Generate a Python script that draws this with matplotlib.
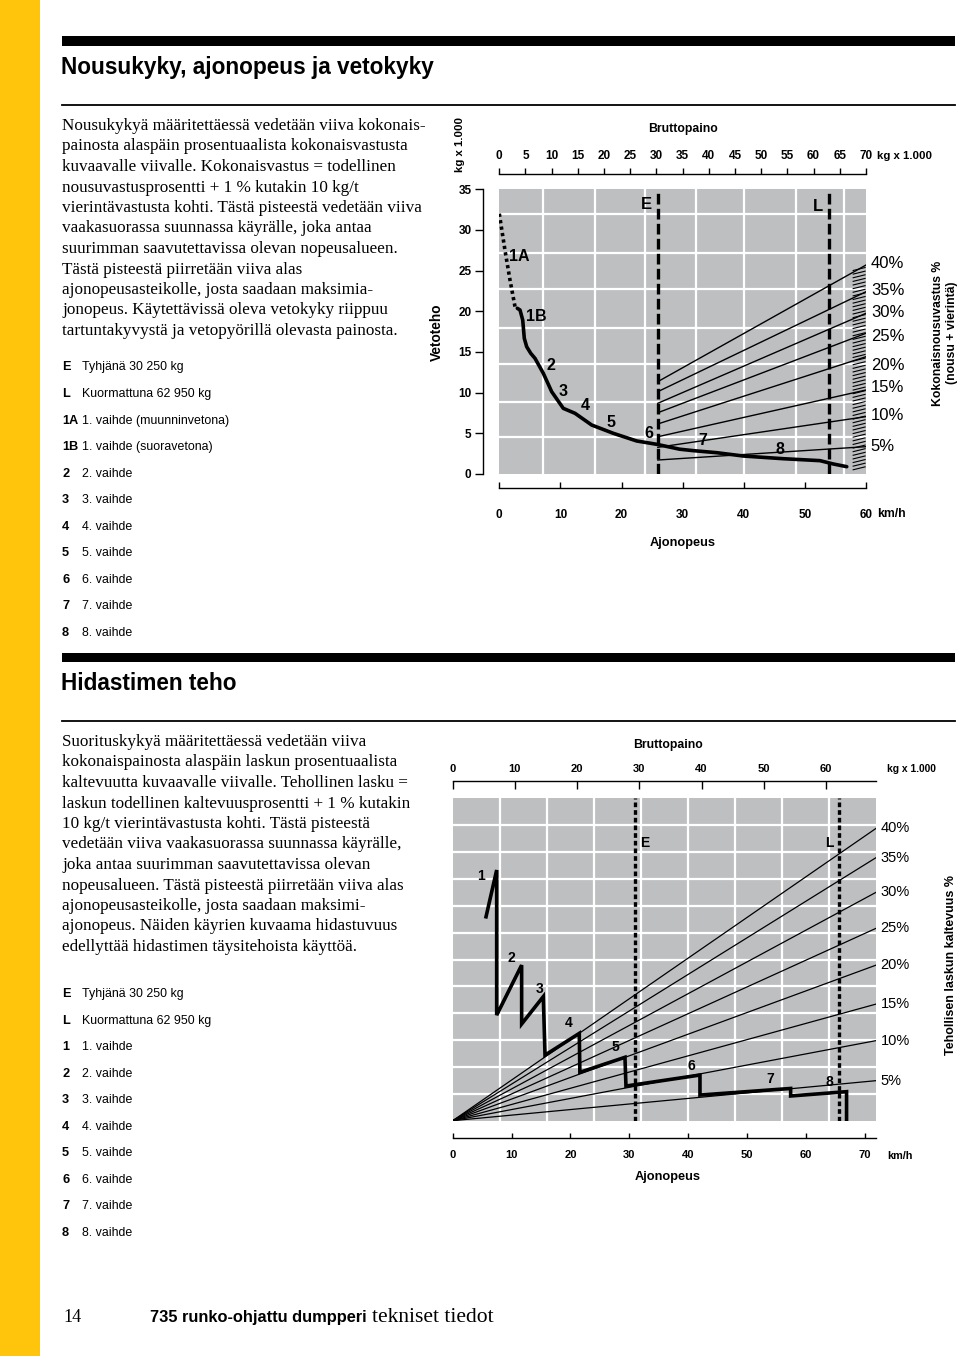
#! /usr/bin/env python3

import numpy as np
import matplotlib.pyplot as plt
from matplotlib.patches import Rectangle
from matplotlib.lines import Line2D

# page size in pixels (dpi 100)
W, H = 960, 1356

NARROW = ['Liberation Sans Narrow', 'Liberation Sans', 'DejaVu Sans']
SANS = ['Liberation Sans', 'DejaVu Sans']
SERIF = ['Liberation Serif', 'DejaVu Serif']
YELLOW = '#FFC40C'
GRAY = '#BEBFC1'

plt.rcParams['font.family'] = NARROW
plt.rcParams['font.weight'] = 'bold'

# ---------------- data: Nousukyky (rimpull) chart ----------------
top_speed_ticks = [0, 10, 20, 30, 40, 50, 60]
top_weight_ticks = list(range(0, 71, 5))
top_force_ticks = [0, 5, 10, 15, 20, 25, 30, 35]
top_vgrid = [7.1, 15.7, 23.8, 32.2, 40.1, 48.6, 56.4]
top_hgrid = [4.5, 8.9, 13.5, 18.0, 22.7, 27.2, 32.0]

# 1A dotted part (km/h, kg x 1000)
gear1a_speed = [0.0, 0.93, 1.75, 2.57, 2.95]
gear1a_force = [32.0, 27.5, 23.85, 20.57, 20.37]
# solid tractive effort curve 1B ... 8
rimpull_speed = [2.95, 3.39, 3.83, 4.09, 4.48, 5.14, 5.84, 7.2, 8.57, 10.47,
                 12.39, 15.12, 18.66, 22.48, 25.76, 29.5, 31.75, 35.57,
                 39.93, 46.47, 52.48, 54.66, 56.85]
rimpull_force = [20.37, 20.16, 18.93, 16.68, 15.65, 14.84, 14.22, 12.38,
                 10.12, 8.07, 7.46, 6.02, 5.0, 4.06, 3.65, 3.05, 2.87, 2.62,
                 2.21, 1.88, 1.64, 1.23, 0.9]
top_gear_labels = ['1A', '1B', '2', '3', '4', '5', '6', '7', '8']
top_gear_x = [3.2, 6.1, 8.5, 10.5, 14.0, 18.2, 24.4, 33.3, 45.9]
top_gear_y = [26.8, 19.4, 13.4, 10.1, 8.4, 6.35, 5.0, 4.06, 3.03]

# empty / loaded gross weight (kg x 1000)
weights = [30.25, 62.95]
weight_names = ['E', 'L']

# total resistance lines: value at E line and at 70 t
grades = ['40%', '35%', '30%', '25%', '20%', '15%', '10%', '5%']
top_grade_left = [11.35, 10.12, 8.69, 7.53, 6.15, 4.58, 3.28, 1.72]
top_grade_right = [25.69, 22.41, 19.76, 17.3, 14.42, 10.33, 7.05, 3.36]
top_grade_label_y = [25.9, 22.6, 19.9, 16.9, 13.4, 10.6, 7.2, 3.4]

# ---------------- data: Hidastimen teho (retarder) chart ----------------
bot_speed_ticks = [0, 10, 20, 30, 40, 50, 60, 70]
bot_weight_ticks = [0, 10, 20, 30, 40, 50, 60]
bot_vgrid = [8, 16, 24, 32, 40, 48, 56, 64]
bot_hgrid = [1, 2, 3, 4, 5, 6, 7, 8, 9, 10, 11]
bot_weight_lines = [29.3, 62.1]
bot_grade_right = [10.88, 9.79, 8.50, 7.16, 5.79, 4.34, 2.98, 1.49]

retard_speed = [5.66, 7.47, 7.47, 11.71, 11.71, 15.39, 15.68, 21.5, 21.6,
                29.26, 29.43, 42.0, 42.0, 57.4, 57.4, 66.9, 66.9]
retard_value = [7.59, 9.33, 3.93, 5.79, 3.60, 4.62, 2.44, 3.25, 1.80,
                2.36, 1.29, 1.70, 0.955, 1.20, 0.92, 1.08, 0.0]
bot_gear_labels = ['1', '2', '3', '4', '5', '6', '7', '8']
bot_gear_x = [4.75, 9.9, 14.8, 19.7, 27.6, 40.6, 54.0, 63.9]
bot_gear_y = [9.12, 6.04, 4.89, 3.62, 2.73, 2.05, 1.54, 1.43]

# ---------------- page texts ----------------
title1 = "Nousukyky, ajonopeus ja vetokyky"
title2 = "Hidastimen teho"
para1 = [
    "Nousukykyä määritettäessä vedetään viiva kokonais-",
    "painosta alaspäin prosentuaalista kokonaisvastusta",
    "kuvaavalle viivalle. Kokonaisvastus = todellinen",
    "nousuvastusprosentti + 1 % kutakin 10 kg/t",
    "vierintävastusta kohti. Tästä pisteestä vedetään viiva",
    "vaakasuorassa suunnassa käyrälle, joka antaa",
    "suurimman saavutettavissa olevan nopeusalueen.",
    "Tästä pisteestä piirretään viiva alas",
    "ajonopeusasteikolle, josta saadaan maksimia-",
    "jonopeus. Käytettävissä oleva vetokyky riippuu",
    "tartuntakyvystä ja vetopyörillä olevasta painosta.",
]
para2 = [
    "Suorituskykyä määritettäessä vedetään viiva",
    "kokonaispainosta alaspäin laskun prosentuaalista",
    "kaltevuutta kuvaavalle viivalle. Tehollinen lasku =",
    "laskun todellinen kaltevuusprosentti + 1 % kutakin",
    "10 kg/t vierintävastusta kohti. Tästä pisteestä",
    "vedetään viiva vaakasuorassa suunnassa käyrälle,",
    "joka antaa suurimman saavutettavissa olevan",
    "nopeusalueen. Tästä pisteestä piirretään viiva alas",
    "ajonopeusasteikolle, josta saadaan maksimi-",
    "ajonopeus. Näiden käyrien kuvaama hidastuvuus",
    "edellyttää hidastimen täysitehoista käyttöä.",
]
legend1_keys = ['E', 'L', '1A', '1B', '2', '3', '4', '5', '6', '7', '8']
legend1_text = ['Tyhjänä 30 250 kg', 'Kuormattuna 62 950 kg',
                '1. vaihde (muunninvetona)', '1. vaihde (suoravetona)',
                '2. vaihde', '3. vaihde', '4. vaihde', '5. vaihde',
                '6. vaihde', '7. vaihde', '8. vaihde']
legend2_keys = ['E', 'L', '1', '2', '3', '4', '5', '6', '7', '8']
legend2_text = ['Tyhjänä 30 250 kg', 'Kuormattuna 62 950 kg',
                '1. vaihde', '2. vaihde', '3. vaihde', '4. vaihde',
                '5. vaihde', '6. vaihde', '7. vaihde', '8. vaihde']


def ftext(x, y, s, **kw):
    return fig.text(x / W, 1 - y / H, s, **kw)


def frect(x0, y0, x1, y1, color):
    fig.add_artist(Rectangle((x0 / W, 1 - y1 / H), (x1 - x0) / W, (y1 - y0) / H,
                             transform=fig.transFigure, color=color, lw=0))


def fline(x0, x1, y, lw):
    fig.add_artist(Line2D([x0 / W, x1 / W], [1 - y / H, 1 - y / H],
                          transform=fig.transFigure, color='k', lw=lw))


fig = plt.figure(figsize=(W / 100, H / 100), dpi=100)

# page decoration
frect(0, 0, 40, H, YELLOW)
frect(62, 36, 955, 45.5, 'k')
fline(62, 955, 105, 1.3)
frect(62, 652.5, 955, 661.5, 'k')
fline(62, 955, 720.5, 1.3)

ftext(61, 74, title1, fontsize=16.3, va='baseline')
ftext(61, 689.5, title2, fontsize=16.3, va='baseline')

for i, line in enumerate(para1):
    ftext(62, 130 + 20.5 * i, line, family=SERIF, fontweight='normal',
          fontsize=12.3, va='baseline')
for i, line in enumerate(para2):
    ftext(62, 746 + 20.5 * i, line, family=SERIF, fontweight='normal',
          fontsize=12.3, va='baseline')

for i, (k, t) in enumerate(zip(legend1_keys, legend1_text)):
    ftext(62, 370.5 + 26.55 * i, k, fontsize=9.2, va='baseline')
    ftext(82, 370.5 + 26.55 * i, t, fontsize=8.9, fontweight='normal', va='baseline')
for i, (k, t) in enumerate(zip(legend2_keys, legend2_text)):
    ftext(62, 997 + 26.55 * i, k, fontsize=9.2, va='baseline')
    ftext(82, 997 + 26.55 * i, t, fontsize=8.9, fontweight='normal', va='baseline')

# ---------------- top chart ----------------
ax1 = fig.add_axes([499.3 / W, 1 - 474 / H, (866 - 499.3) / W, (474 - 189.3) / H])
ax1.set_facecolor(GRAY)
ax1.set_xlim(0, 60)
ax1.set_ylim(0, 35)
for v in top_vgrid:
    ax1.axvline(v, color='white', lw=1.6, zorder=1)
for h in top_hgrid:
    ax1.axhline(h, color='white', lw=1.6, zorder=1)

ax1.spines['top'].set_visible(False)
ax1.spines['right'].set_visible(False)
ax1.spines['left'].set_position(('outward', 11.7))
ax1.spines['left'].set_bounds(0, 35)
ax1.spines['bottom'].set_position(('outward', 10.3))
ax1.spines['bottom'].set_bounds(0, 60)
for s in ('left', 'bottom'):
    ax1.spines[s].set_linewidth(1.0)
ax1.set_yticks(top_force_ticks)
ax1.set_xticks(top_speed_ticks)
ax1.tick_params(axis='y', direction='out', length=5.8, width=1.0, pad=2.5, labelsize=8.5)
ax1.tick_params(axis='x', direction='in', length=4, width=1.0, pad=15, labelsize=8.5)


def s2b_top(s):
    return np.asarray(s) * 70.0 / 60.0


def b2s_top(b):
    return np.asarray(b) * 60.0 / 70.0


sec1 = ax1.secondary_xaxis('top', functions=(s2b_top, b2s_top))
sec1.set_xticks(top_weight_ticks)
sec1.spines['top'].set_position(('outward', 11))
sec1.spines['top'].set_bounds(0, 70)
sec1.spines['top'].set_linewidth(1.0)
sec1.tick_params(direction='out', length=4.3, width=1.0, pad=4.5, labelsize=8.5)

# resistance scale hatch at right edge
for yy in np.linspace(0.7, 25.2, 56):
    ax1.plot([57.9, 59.85], [yy - 0.18, yy + 0.18], color='k', lw=0.8, zorder=2)

for yl, yr in zip(top_grade_left, top_grade_right):
    ax1.plot([b2s_top(weights[0]), 60], [yl, yr], color='k', lw=1.0, zorder=3)

for w, n in zip(weights, weight_names):
    ax1.axvline(b2s_top(w), color='k', lw=2.4, dashes=(3.2, 1.3), zorder=4)

ax1.text(b2s_top(weights[0]) - 0.9, 33.1, 'E', family=SANS, fontsize=12,
         ha='right', va='center')
ax1.text(b2s_top(weights[1]) - 0.9, 32.9, 'L', family=SANS, fontsize=12,
         ha='right', va='center')

ax1.plot(gear1a_speed, gear1a_force, color='k', lw=2.6, dashes=(0.9, 0.9), zorder=5)
ax1.plot(rimpull_speed, rimpull_force, color='k', lw=2.6, zorder=5,
         solid_joinstyle='round', solid_capstyle='round')

for lab, x, y in zip(top_gear_labels, top_gear_x, top_gear_y):
    ax1.text(x, y, lab, family=SANS, fontsize=11.5, ha='center', va='center', zorder=6)

for lab, y in zip(grades, top_grade_label_y):
    ax1.text(60.8, y, lab, family=SANS, fontweight='normal', fontsize=12,
             ha='left', va='center', clip_on=False)

ftext(683, 129, 'Bruttopaino', fontsize=8.8, ha='center', va='center')
ftext(877, 156, 'kg x 1.000', fontsize=8.2, ha='left', va='center')
ftext(460, 145, 'kg x 1.000', fontsize=8.2, ha='center', va='center', rotation=90)
ftext(437, 332, 'Vetoteho', fontsize=9.8, ha='center', va='center', rotation=90)
ftext(877, 514, 'km/h', fontsize=8.8, ha='left', va='center')
ftext(683, 543, 'Ajonopeus', fontsize=9.2, ha='center', va='center')
ftext(945, 333, 'Kokonaisnousuvastus %\n(nousu + vierintä)', fontsize=8.8,
      ha='center', va='center', rotation=90, linespacing=1.15, multialignment='center')

# ---------------- bottom chart ----------------
ax2 = fig.add_axes([452.7 / W, 1 - 1120.7 / H, (876 - 452.7) / W, (1120.7 - 798.3) / H])
ax2.set_facecolor(GRAY)
ax2.set_xlim(0, 71.9)
ax2.set_ylim(0, 12)
for v in bot_vgrid:
    ax2.axvline(v, color='white', lw=1.6, zorder=1)
for h in bot_hgrid:
    ax2.axhline(h, color='white', lw=1.6, zorder=1)

for s in ('top', 'right', 'left'):
    ax2.spines[s].set_visible(False)
ax2.spines['bottom'].set_position(('outward', 12.7))
ax2.spines['bottom'].set_linewidth(1.0)
ax2.set_yticks([])
ax2.set_xticks(bot_speed_ticks)
ax2.tick_params(axis='x', direction='in', length=3.6, width=1.0, pad=8.5, labelsize=8)


def s2b_bot(s):
    return np.asarray(s) * 0.9464


def b2s_bot(b):
    return np.asarray(b) / 0.9464


sec2 = ax2.secondary_xaxis('top', functions=(s2b_bot, b2s_bot))
sec2.set_xticks(bot_weight_ticks)
sec2.spines['top'].set_position(('outward', 12.7))
sec2.spines['top'].set_linewidth(1.0)
sec2.tick_params(direction='in', length=5.5, width=1.0, pad=4.5, labelsize=8)

for yr in bot_grade_right:
    ax2.plot([0, 71.9], [0, yr], color='k', lw=0.9, zorder=3)

for w in bot_weight_lines:
    ax2.axvline(b2s_bot(w), color='k', lw=2.4, dashes=(1.4, 0.9), zorder=4)
ax2.text(b2s_bot(bot_weight_lines[0]) + 0.9, 10.35, 'E', fontsize=10,
         ha='left', va='center')
ax2.text(b2s_bot(bot_weight_lines[1]) - 0.9, 10.35, 'L', fontsize=10,
         ha='right', va='center')

ax2.plot(retard_speed, retard_value, color='k', lw=2.6, zorder=5,
         solid_joinstyle='miter')

for lab, x, y in zip(bot_gear_labels, bot_gear_x, bot_gear_y):
    ax2.text(x, y, lab, fontsize=10, ha='center', va='center', zorder=6)

for lab, y in zip(grades, bot_grade_right):
    ax2.text(72.7, y, lab, family=SANS, fontweight='normal', fontsize=10.5,
             ha='left', va='center', clip_on=False)

ftext(668, 745, 'Bruttopaino', fontsize=8.8, ha='center', va='center')
ftext(887, 769, 'kg x 1.000', fontsize=7.4, ha='left', va='center')
ftext(887, 1156, 'km/h', fontsize=7.8, ha='left', va='center')
ftext(668, 1177, 'Ajonopeus', fontsize=9.2, ha='center', va='center')
ftext(951, 965, 'Tehollisen laskun kaltevuus %', fontsize=9.0,
      ha='center', va='center', rotation=90)

# ---------------- footer ----------------
ftext(63, 1322, '14', family=SERIF, fontweight='normal', fontsize=13, va='baseline')
foot = ftext(150, 1322, '735 runko-ohjattu dumpperi', fontsize=11.8, va='baseline')
fig.canvas.draw()
bb = foot.get_window_extent()
fig.text((bb.x1 + 5) / W, 1 - 1322 / H, 'tekniset tiedot', family=SERIF,
         fontweight='normal', fontsize=15.5, va='baseline')

fig.savefig('out.png', dpi=100)
